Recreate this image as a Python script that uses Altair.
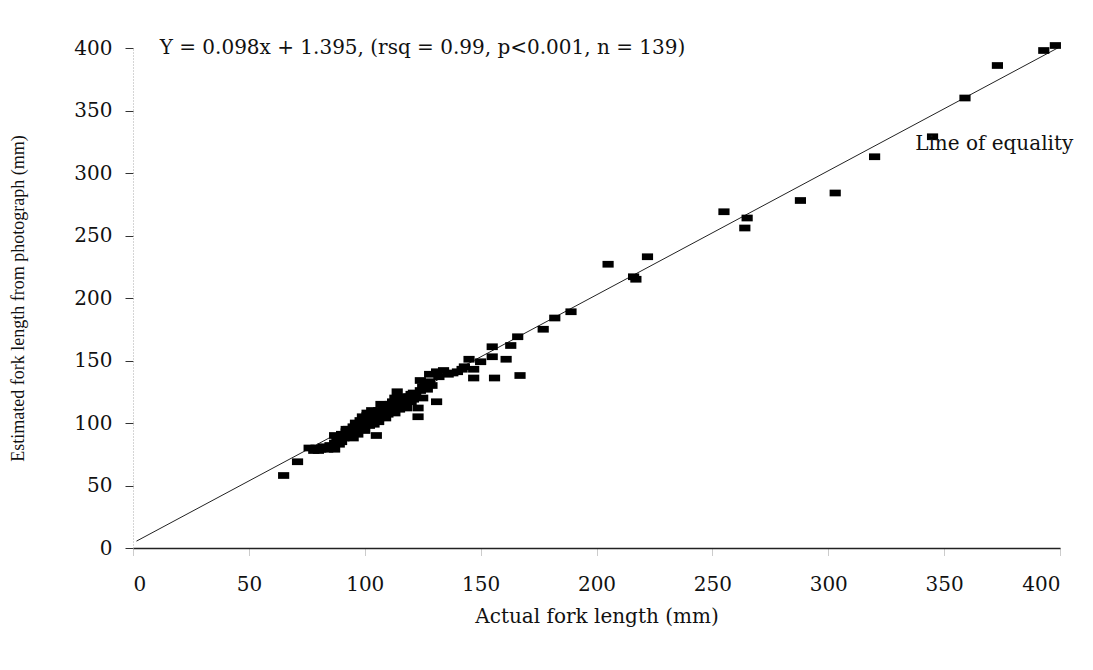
import altair as alt
import pandas as pd

# Actual fork length (mm)
actual = [
    65, 71, 76, 80, 87, 87, 92, 105,
    78, 79, 81, 82, 84, 85, 86, 87, 88, 89, 89, 90, 90, 91, 92, 93, 93, 94, 95, 95,
    96, 96, 97, 97, 98, 98, 99, 99, 100, 100, 101, 101, 102, 102, 103, 103, 104, 104,
    105, 105, 106, 106, 107, 107, 108, 108, 109, 109, 110, 110, 111, 111, 112, 112,
    113, 113, 114, 114, 115, 115, 116, 116, 117, 118, 118, 119, 120, 120, 121, 122,
    123, 123, 124, 124, 125, 125, 126, 127, 128, 128, 129, 131, 131, 132, 134, 136,
    138, 140, 142, 143, 145, 147, 147, 150, 155, 156, 155, 161, 163, 166, 167, 177,
    182, 189, 205, 216, 217, 222, 255, 264, 265, 288, 303, 320, 345, 359, 373, 393,
    398, 97, 101, 106, 111, 117, 121, 113, 91
]
# Estimated fork length from photograph (mm)
estimated = [
    58, 69, 80, 78, 79, 90, 95, 90,
    78, 80, 79, 81, 79, 82, 80, 84, 86, 83, 88, 85, 91, 88, 93, 90, 95, 92, 88, 97,
    94, 100, 91, 98, 102, 95, 97, 105, 100, 94, 103, 108, 98, 105, 101, 110, 106, 99,
    103, 108, 110, 101, 105, 115, 108, 112, 104, 110, 113, 107, 115, 109, 111, 117,
    113, 108, 116, 125, 111, 118, 114, 120, 116, 119, 112, 121, 117, 123, 119, 122,
    105, 112, 126, 134, 129, 120, 131, 127, 139, 133, 130, 141, 117, 137, 142, 139,
    140, 141, 143, 145, 151, 143, 136, 149, 153, 136, 161, 151, 162, 169, 138, 175,
    184, 189, 227, 217, 215, 233, 269, 256, 264, 278, 284, 313, 329, 360, 386, 398,
    402, 96, 106, 104, 112, 121, 124, 120, 89
]

line_x = [1.5, 400]
line_y = [5.5, 401]

equation = "Y = 0.098x + 1.395, (rsq = 0.99, p<0.001, n = 139)"
eq_pos = [[11.5, 400]]
line_label = "Line of equality"
line_label_pos = [[337.5, 323]]

FONT = "DejaVu Serif"
VFONT = "Liberation Serif"

pts = pd.DataFrame({"actual": actual, "estimated": estimated})
ldf = pd.DataFrame({"actual": line_x, "estimated": line_y})
tdf = pd.DataFrame({"x": [eq_pos[0][0], line_label_pos[0][0]],
                    "y": [eq_pos[0][1], line_label_pos[0][1]],
                    "t": [equation, line_label]})

xs = alt.Scale(domain=[0, 400], nice=False, zero=False)
ys = alt.Scale(domain=[0, 400], nice=False, zero=False)

xax = alt.Axis(values=list(range(0, 401, 50)), title="Actual fork length (mm)",
               grid=False, domainColor="#222", domainWidth=1.5,
               tickColor="#999", tickDash=[1, 1], tickSize=7,
               labelFont=FONT, labelFontSize=20, labelColor="#111", labelPadding=19,
               titleFont=FONT, titleFontSize=20, titleFontWeight="normal",
               titleColor="#111", titleY=68, titleBaseline="middle")
yax = alt.Axis(values=list(range(0, 401, 50)),
               title="Estimated fork length from photograph (mm)",
               grid=False, domainColor="#aaa", domainDash=[1, 2], domainWidth=1,
               tickColor="#333", tickSize=8,
               labelFont=FONT, labelFontSize=20, labelColor="#111", labelPadding=13,
               titleFont=VFONT, titleFontSize=18, titleFontWeight="normal",
               titleColor="#111", titleX=-115, titleY=250, titleBaseline="middle")

line = alt.Chart(ldf).mark_line(color="#222", strokeWidth=1).encode(
    x=alt.X("actual:Q", scale=xs, axis=xax),
    y=alt.Y("estimated:Q", scale=ys, axis=yax),
)

points = alt.Chart(pts).mark_point(
    shape="M-1,-0.6H1V0.6H-1Z", size=125, filled=True, color="#000", opacity=1
).encode(
    x=alt.X("actual:Q", scale=xs),
    y=alt.Y("estimated:Q", scale=ys),
)

text = alt.Chart(tdf).mark_text(
    font=FONT, fontSize=20, color="#111", align="left", baseline="middle"
).encode(
    x=alt.X("x:Q", scale=xs),
    y=alt.Y("y:Q", scale=ys),
    text="t:N",
)

chart = (line + points + text).properties(
    width=927, height=500,
    padding={"left": 125, "top": 40, "right": 20, "bottom": 110},
    autosize=alt.AutoSizeParams(type="none"),
    background="white",
).configure_view(stroke=None)

chart.save("out.html", embed_options={"renderer": "svg", "actions": False})
